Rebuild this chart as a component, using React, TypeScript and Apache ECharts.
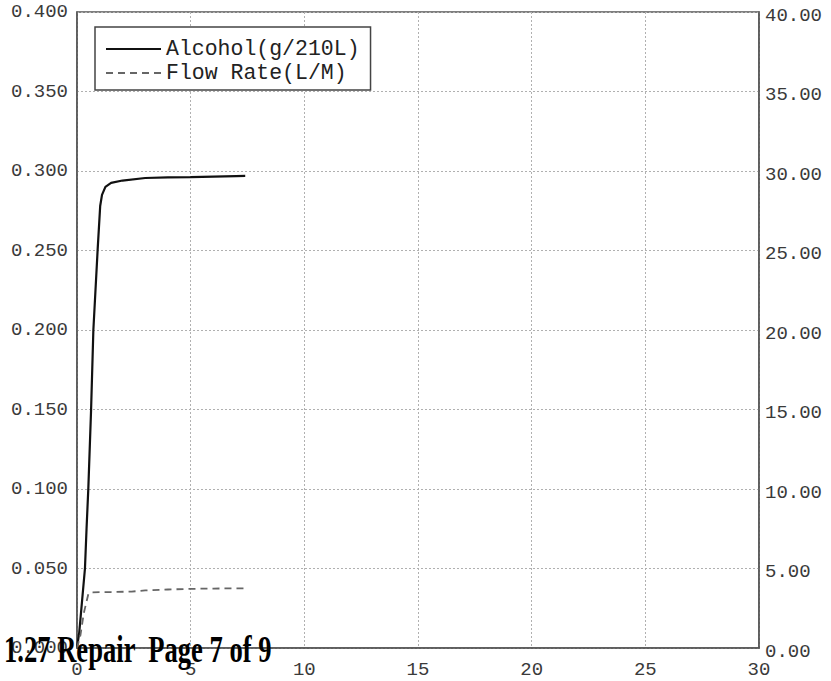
import React, { useEffect, useRef } from "react";
import * as echarts from "echarts";

// Alcohol (g/210L) vs time (s)
const alcoholTime = [0, 0.1, 0.35, 0.42, 0.5, 0.62, 0.72, 0.91, 1.02, 1.1, 1.25, 1.5, 2, 3, 4, 5, 6, 7, 7.4];
const alcoholValue = [0, 0.01, 0.05, 0.075, 0.101, 0.15, 0.2, 0.251, 0.278, 0.285, 0.29, 0.2925, 0.294, 0.2956, 0.296, 0.2962, 0.2965, 0.2968, 0.2969];

// Flow rate (L/M) vs time (s)
const flowTime = [0, 0.15, 0.3, 0.5, 0.6, 1.5, 2.4, 3, 4, 5, 6, 7, 7.5];
const flowValue = [0, 0.8, 2.2, 3.4, 3.5, 3.52, 3.55, 3.62, 3.68, 3.72, 3.74, 3.75, 3.75];

const seriesNames = ["Alcohol(g/210L)", "Flow Rate(L/M)"];
const footerText = "1.27 Repair  Page 7 of 9";

const MONO = "'Liberation Mono', 'DejaVu Sans Mono', monospace";

export default function App() {
  const ref = useRef<HTMLDivElement>(null);
  useEffect(() => {
    if (!ref.current) return;
    const chart = echarts.init(ref.current, undefined, { renderer: "svg" });
    const labelStyle = { fontFamily: MONO, fontSize: 19, color: "#3a3a3a" };
    chart.setOption({
      animation: false,
      backgroundColor: "#fff",
      grid: {
        left: 77,
        right: 72,
        top: 12,
        bottom: 33,
        show: true,
        borderColor: "#555",
        borderWidth: 1.5,
        backgroundColor: "transparent",
      },
      legend: {
        orient: "vertical",
        left: 95,
        top: 27,
        padding: [11, 11, 6, 10],
        itemGap: 2,
        itemWidth: 55,
        itemHeight: 14,
        borderColor: "#444",
        borderWidth: 1.5,
        backgroundColor: "#fff",
        data: seriesNames,
        itemStyle: { color: "rgba(0,0,0,0)", borderWidth: 0 },
        textStyle: { fontFamily: MONO, fontSize: 21.5, color: "#222", lineHeight: 21 },
      },
      xAxis: {
        type: "value",
        min: 0,
        max: 30,
        interval: 5,
        axisLine: { show: true, lineStyle: { color: "#555", width: 1.5 } },
        axisTick: { show: false },
        axisLabel: { ...labelStyle, margin: 12 },
        splitLine: { show: true, lineStyle: { color: "#b0b0b0", type: [2, 2], width: 1 } },
      },
      yAxis: [
        {
          type: "value",
          min: 0,
          max: 0.4,
          interval: 0.05,
          axisLine: { show: true, lineStyle: { color: "#555", width: 1.5 } },
          axisTick: { show: false },
          axisLabel: { ...labelStyle, margin: 9, formatter: (v: number) => v.toFixed(3) },
          splitLine: { show: true, lineStyle: { color: "#b0b0b0", type: [2, 2], width: 1 } },
        },
        {
          type: "value",
          min: 0,
          max: 40,
          interval: 5,
          position: "right",
          axisLine: { show: true, lineStyle: { color: "#555", width: 1.5 } },
          axisTick: { show: false },
          axisLabel: { ...labelStyle, margin: 6, verticalAlign: "top", padding: [-6, 0, 0, 0], formatter: (v: number) => v.toFixed(2) },
          splitLine: { show: false },
        },
      ],
      series: [
        {
          name: seriesNames[0],
          type: "line",
          yAxisIndex: 0,
          showSymbol: false,
          symbol: "none",
          data: alcoholTime.map((t, i) => [t, alcoholValue[i]]),
          lineStyle: { color: "#111", width: 2.2 },
          itemStyle: { color: "#111" },
        },
        {
          name: seriesNames[1],
          type: "line",
          yAxisIndex: 1,
          showSymbol: false,
          symbol: "none",
          data: flowTime.map((t, i) => [t, flowValue[i]]),
          lineStyle: { color: "#666", width: 1.8, type: [7, 5] },
          itemStyle: { color: "#666" },
        },
      ],
      graphic: [
        {
          type: "text",
          x: 4,
          y: 649,
          scaleX: 0.7,
          z: 100,
          style: {
            text: footerText,
            font: "bold 38px 'Liberation Serif', 'Times New Roman', serif",
            fill: "#000",
            verticalAlign: "middle",
            align: "left",
          },
        },
      ],
    });
    return () => chart.dispose();
  }, []);
  return <div ref={ref} style={{ width: 831, height: 681, position: "absolute", left: 0, top: 0 }} />;
}
